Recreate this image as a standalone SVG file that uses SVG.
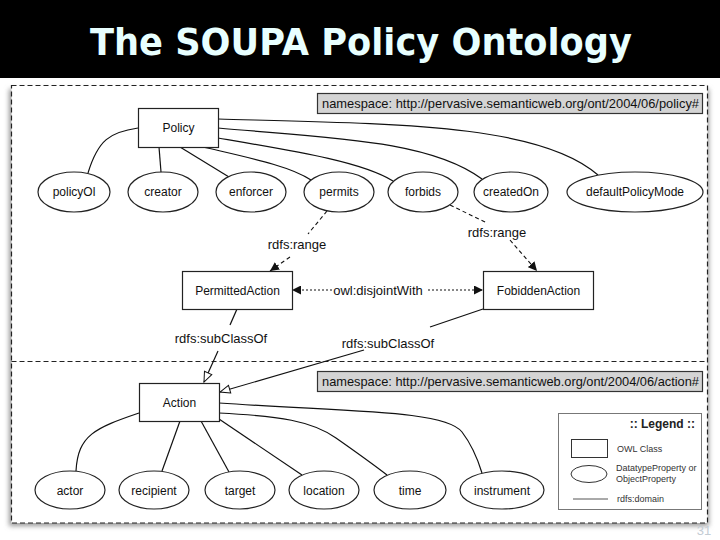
<svg xmlns="http://www.w3.org/2000/svg" width="720" height="540" viewBox="0 0 720 540">
<style>
.t{font-family:"Liberation Sans",Arial,sans-serif;font-size:12px;fill:#111;text-anchor:middle}
.lb{font-family:"Liberation Sans",Arial,sans-serif;font-size:13px;fill:#111;text-anchor:middle}
.ns{font-family:"Liberation Sans",Arial,sans-serif;font-size:12.8px;fill:#111}
.lg{font-family:"Liberation Sans",Arial,sans-serif;font-size:9px;fill:#333}
.box{fill:#fff;stroke:#222;stroke-width:1.2}
.ell{fill:#fff;stroke:#222;stroke-width:1.2}
.c{fill:none;stroke:#111;stroke-width:1.2}
.d{fill:none;stroke:#111;stroke-width:1.1;stroke-dasharray:4,3}
.dot{fill:none;stroke:#111;stroke-width:1.1;stroke-dasharray:2,2}
</style>
<defs>
<marker id="fa" viewBox="0 0 10 10" refX="10" refY="5" markerWidth="9" markerHeight="9" markerUnits="userSpaceOnUse" orient="auto-start-reverse"><path d="M0,0 L10,5 L0,10 z" fill="#111"/></marker>
<marker id="oa" viewBox="0 0 12 10" refX="11" refY="5" markerWidth="12" markerHeight="10" markerUnits="userSpaceOnUse" orient="auto"><path d="M1,1 L11,5 L1,9 z" fill="#fff" stroke="#111" stroke-width="1"/></marker>
<filter id="sh" x="-5%" y="-5%" width="110%" height="115%"><feGaussianBlur stdDeviation="2.5"/></filter>
</defs>
<rect x="0" y="0" width="720" height="540" fill="#fff"/>
<rect x="0" y="0" width="720" height="78" fill="#000"/>
<text x="361" y="55" font-family="'DejaVu Sans',Verdana,sans-serif" font-weight="bold" font-size="38" fill="#e8ffff" text-anchor="middle" textLength="542" lengthAdjust="spacingAndGlyphs">The SOUPA Policy Ontology</text>

<rect x="9" y="89" width="700" height="437" fill="#999" filter="url(#sh)"/>
<rect x="11.5" y="85.5" width="696" height="437.5" fill="#fff" stroke="#222" stroke-width="1.2" stroke-dasharray="5,3"/>
<line x1="11.5" y1="361.5" x2="707.5" y2="361.5" stroke="#222" stroke-width="1.2" stroke-dasharray="5,3"/>
<text x="704" y="535" font-family="'Liberation Sans',Arial,sans-serif" font-size="13" fill="#c4ccd4" text-anchor="middle">31</text>

<g id="ns-policy"><rect x="317.5" y="93.5" width="385" height="20" fill="#d4d4d4" stroke="#333" stroke-width="1.2"/><text class="ns" x="322" y="108" textLength="377" lengthAdjust="spacingAndGlyphs">namespace: http://pervasive.semanticweb.org/ont/2004/06/policy#</text></g>
<g id="ns-action"><rect x="317.5" y="371.5" width="385" height="20" fill="#d4d4d4" stroke="#333" stroke-width="1.2"/><text class="ns" x="322" y="386" textLength="377" lengthAdjust="spacingAndGlyphs">namespace: http://pervasive.semanticweb.org/ont/2004/06/action#</text></g>

<g id="connectors">
<path class="c" d="M138,128 C110,132 98,140 88,173"/>
<path class="c" d="M159,147 L161,172"/>
<path class="c" d="M180,147 L229,177"/>
<path class="c" d="M203,147 C250,158 290,166 311,180"/>
<path class="c" d="M218,138 C300,152 362,162 393,181"/>
<path class="c" d="M218,128 C330,138 430,140 482,179"/>
<path class="c" d="M218,119 C400,124 540,124 598,175"/>
<path class="d" d="M327,211 L308,234"/>
<path class="d" d="M290,257 L270,271" marker-end="url(#fa)"/>
<text class="lb" x="297" y="249">rdfs:range</text>
<path class="d" d="M450,205 L487,223"/>
<path class="d" d="M510,240 L537,271" marker-end="url(#fa)"/>
<text class="lb" x="497" y="237">rdfs:range</text>
<path class="dot" d="M332,290 L292,290" marker-end="url(#fa)"/>
<path class="dot" d="M428,290 L483,290" marker-end="url(#fa)"/>
<text class="lb" x="378" y="295">owl:disjointWith</text>
<path class="c" d="M237,309 L230,325"/>
<path class="c" d="M218,351 L204,382" marker-end="url(#oa)"/>
<text class="lb" x="221" y="343">rdfs:subClassOf</text>
<path class="c" d="M483,309 L430,327"/>
<path class="c" d="M364,350 L220,392" marker-end="url(#oa)"/>
<text class="lb" x="388" y="348">rdfs:subClassOf</text>
<path class="c" d="M139,413 C95,428 78,435 76,471"/>
<path class="c" d="M180,421 L162,471"/>
<path class="c" d="M201,421 L229,472"/>
<path class="c" d="M219,419 L302,475"/>
<path class="c" d="M219,413 C280,416 312,421 336,438 C356,452 374,465 387,475"/>
<path class="c" d="M219,403 C350,412 445,410 462,432 C472,445 478,460 482,473"/>
</g>

<g id="Policy"><rect class="box" x="138.5" y="108.5" width="80" height="39"/><text class="t" x="178.5" y="132">Policy</text></g>
<g id="policyOl"><ellipse class="ell" cx="74" cy="192" rx="36" ry="20"/><text class="t" x="74" y="196">policyOl</text></g>
<g id="creator"><ellipse class="ell" cx="163" cy="192" rx="35" ry="20"/><text class="t" x="163" y="196">creator</text></g>
<g id="enforcer"><ellipse class="ell" cx="251" cy="192" rx="35" ry="20"/><text class="t" x="251" y="196">enforcer</text></g>
<g id="permits"><ellipse class="ell" cx="339" cy="192" rx="35" ry="20"/><text class="t" x="339" y="196">permits</text></g>
<g id="forbids"><ellipse class="ell" cx="423" cy="192" rx="35" ry="20"/><text class="t" x="423" y="196">forbids</text></g>
<g id="createdOn"><ellipse class="ell" cx="511" cy="192" rx="37" ry="20"/><text class="t" x="511" y="196">createdOn</text></g>
<g id="defaultPolicyMode"><ellipse class="ell" cx="635" cy="192" rx="68" ry="20"/><text class="t" x="635" y="196">defaultPolicyMode</text></g>
<g id="PermittedAction"><rect class="box" x="182.5" y="271.5" width="110" height="38"/><text class="t" x="237.5" y="294.5">PermittedAction</text></g>
<g id="FobiddenAction"><rect class="box" x="483.5" y="271.5" width="110" height="38"/><text class="t" x="538.5" y="294.5">FobiddenAction</text></g>
<g id="Action"><rect class="box" x="139.5" y="383.5" width="80" height="38"/><text class="t" x="179.5" y="406.5">Action</text></g>
<g id="actor"><ellipse class="ell" cx="70" cy="490" rx="35" ry="19"/><text class="t" x="70" y="494.5">actor</text></g>
<g id="recipient"><ellipse class="ell" cx="154" cy="490" rx="35" ry="19"/><text class="t" x="154" y="494.5">recipient</text></g>
<g id="target"><ellipse class="ell" cx="240" cy="490" rx="35" ry="19"/><text class="t" x="240" y="494.5">target</text></g>
<g id="location"><ellipse class="ell" cx="324" cy="490" rx="35" ry="19"/><text class="t" x="324" y="494.5">location</text></g>
<g id="time"><ellipse class="ell" cx="410" cy="490" rx="36" ry="19"/><text class="t" x="410" y="494.5">time</text></g>
<g id="instrument"><ellipse class="ell" cx="502" cy="490" rx="42" ry="19"/><text class="t" x="502" y="494.5">instrument</text></g>

<g id="legend">
<rect x="558.5" y="413.5" width="143" height="96" fill="#fff" stroke="#777" stroke-width="1"/>
<text x="695" y="428" font-family="'Liberation Sans',Arial,sans-serif" font-size="12" font-weight="bold" fill="#222" text-anchor="end">:: Legend ::</text>
<rect x="571.5" y="439.5" width="36" height="18" fill="#fff" stroke="#333" stroke-width="1"/>
<text class="lg" x="617" y="452">OWL Class</text>
<ellipse cx="589" cy="474" rx="18" ry="8.5" fill="#fff" stroke="#333" stroke-width="1"/>
<text class="lg" x="616" y="471">DatatypeProperty or</text>
<text class="lg" x="616" y="482">ObjectProperty</text>
<line x1="573" y1="499" x2="608" y2="499" stroke="#555" stroke-width="1"/>
<text class="lg" x="617" y="502">rdfs:domain</text>
</g>
</svg>
